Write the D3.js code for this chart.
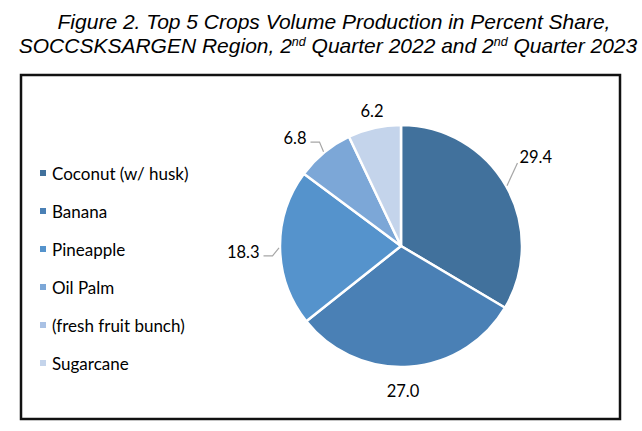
<!DOCTYPE html>
<html>
<head>
<meta charset="utf-8">
<script src="https://cdn.jsdelivr.net/npm/d3@7"></script>
<style>
  html, body { margin: 0; padding: 0; background: #fff; }
  svg { display: block; }
</style>
</head>
<body>
<svg id="chart" width="642" height="431"></svg>
<script>
// ---- data ----
const categories = ["Coconut (w/ husk)", "Banana", "Pineapple", "Oil Palm", "(fresh fruit bunch)", "Sugarcane"];
const values = [29.4, 27.0, 18.3, 6.8, null, 6.2];
const colors = ["#41719C", "#4A80B5", "#5593CC", "#7CA7D7", "#A9C1E4", "#C4D4EB"];
const titleLine1 = "Figure 2. Top 5 Crops Volume Production in Percent Share,";
const titleLine2 = [["SOCCSKSARGEN Region, 2", false], ["nd", true], [" Quarter 2022 and 2", false], ["nd", true], [" Quarter 2023", false]];

// ---- layout ----
const svg = d3.select("#chart");
const cx = 401, cy = 246, r = 121;
const bodyFont = "Lato, 'Open Sans', sans-serif";

// title
const title = svg.append("g")
  .attr("font-family", "'Liberation Sans', Arial, sans-serif")
  .attr("font-style", "italic")
  .attr("font-size", 21)
  .attr("fill", "#000");
title.append("text").attr("x", 334).attr("y", 29).attr("text-anchor", "middle").text(titleLine1);
const t2 = title.append("text").attr("x", 328).attr("y", 53).attr("text-anchor", "middle");
titleLine2.forEach(([s, sup]) => {
  const ts = t2.append("tspan").text(s);
  if (sup) ts.attr("font-size", 12.5).attr("baseline-shift", "7.5");
});

// frame
svg.append("rect")
  .attr("x", 21).attr("y", 75).attr("width", 599).attr("height", 344)
  .attr("fill", "none").attr("stroke", "#111").attr("stroke-width", 2.5);

// pie
const pie = d3.pie().value(d => d.v || 0).sort(null)
  .startAngle(0).endAngle(2 * Math.PI);
const data = categories.map((c, i) => ({ c, v: values[i], color: colors[i] }));
const arcs = pie(data);
const arc = d3.arc().innerRadius(0).outerRadius(r);

const g = svg.append("g").attr("transform", `translate(${cx},${cy})`);
g.selectAll("path.slice")
  .data(arcs.filter(a => a.data.v))
  .join("path")
  .attr("class", "slice")
  .attr("d", arc)
  .attr("fill", d => d.data.color)
  .attr("stroke", "#fff")
  .attr("stroke-width", 2.5)
  .attr("stroke-linejoin", "round");

// labels (layout: polar placement relative to slice mid angle, in units of r)
const labelLayout = [
  { k: 1.335, da: -3.8, leader: "right" },
  { k: 1.20, da: 3.1, leader: null },
  { k: 1.305, da: -1.2, leader: "left" },
  { k: 1.25, da: -5.1, leader: "left" },
  null,
  { k: 1.14, da: 0.6, leader: null }
];
const polar = (ang, rad) => [Math.sin(ang) * rad, -Math.cos(ang) * rad];
const lblG = g.append("g").attr("font-family", bodyFont).attr("font-size", 16.5).attr("fill", "#000");
arcs.forEach((a, i) => {
  const L = labelLayout[i];
  if (!a.data.v || !L) return;
  const mid = (a.startAngle + a.endAngle) / 2;
  const [tx, ty] = polar(mid + L.da * Math.PI / 180, r * L.k);
  const t = lblG.append("text")
    .attr("x", tx).attr("y", ty)
    .attr("text-anchor", "middle")
    .attr("dominant-baseline", "central")
    .text(d3.format(".1f")(a.data.v));
  const hw = t.node().getComputedTextLength() / 2;
  if (L.leader) {
    const e = polar(mid, r + 1);
    let pts;
    if (L.leader === "left") {
      const endX = tx + hw + 4, yy = ty + 4;
      pts = [e, [endX + 9, yy], [endX, yy]];
    } else {
      pts = [e, [tx - hw - 2, ty + 6]];
    }
    g.append("path")
      .attr("d", d3.line()(pts))
      .attr("fill", "none")
      .attr("stroke", "#A6A6A6")
      .attr("stroke-width", 1.2);
  }
});

// legend
const legend = svg.append("g").attr("font-family", bodyFont).attr("font-size", 17).attr("fill", "#000");
const ly = d3.scalePoint().domain(categories).range([173, 363]);
categories.forEach((c, i) => {
  const y = ly(c);
  legend.append("rect").attr("x", 40).attr("y", y - 3).attr("width", 6).attr("height", 6).attr("fill", colors[i]);
  legend.append("text").attr("x", 52).attr("y", y).attr("dominant-baseline", "central").text(c);
});
</script>
</body>
</html>
